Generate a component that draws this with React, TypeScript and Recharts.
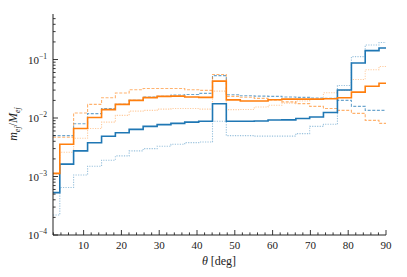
import { LineChart, Line, XAxis, YAxis } from 'recharts';

// bin centres in degrees
const theta = [1.9, 5.5, 9.2, 12.9, 16.6, 20.2, 23.9, 27.6, 31.3, 34.9, 38.6, 42.3, 45.9, 49.6, 53.3, 57.0, 60.6, 64.3, 68.0, 71.6, 75.3, 79.0, 82.7, 86.3, 90.0];

const blueSolid = [5.3e-4, 1.63e-3, 2.74e-3, 3.78e-3, 4.88e-3, 5.6e-3, 6.4e-3, 7.2e-3, 7.7e-3, 8.1e-3, 8.5e-3, 8.8e-3, 1.75e-2, 8.8e-3, 8.8e-3, 8.9e-3, 9.25e-3, 9.3e-3, 9.8e-3, 1.04e-2, 1.24e-2, 3.02e-2, 8.7e-2, 1.42e-1, 1.57e-1];
const orangeSolid = [1.13e-3, 3.56e-3, 6.6e-3, 1.02e-2, 1.39e-2, 1.71e-2, 2.0e-2, 2.23e-2, 2.34e-2, 2.37e-2, 2.28e-2, 2.25e-2, 4.27e-2, 2.04e-2, 1.95e-2, 1.95e-2, 2.05e-2, 2.1e-2, 2.1e-2, 2.1e-2, 2.13e-2, 2.22e-2, 2.77e-2, 3.5e-2, 3.94e-2];
const blueDashed = [5.0e-3, 5.0e-3, 8.0e-3, 1.19e-2, 1.45e-2, 1.71e-2, 2.0e-2, 2.28e-2, 2.34e-2, 2.47e-2, 2.53e-2, 2.64e-2, 5.3e-2, 2.5e-2, 2.4e-2, 2.37e-2, 2.34e-2, 2.28e-2, 2.25e-2, 2.2e-2, 2.17e-2, 2.0e-2, 1.58e-2, 1.35e-2, 1.35e-2];
const orangeDashed = [4.7e-3, 4.7e-3, 1.22e-2, 1.71e-2, 2.22e-2, 2.67e-2, 3.05e-2, 3.2e-2, 3.2e-2, 3.2e-2, 3.05e-2, 2.97e-2, 5.55e-2, 2.34e-2, 2.26e-2, 2.17e-2, 2.04e-2, 1.89e-2, 1.76e-2, 1.58e-2, 1.45e-2, 1.35e-2, 1.2e-2, 9.1e-3, 8.1e-3];
const blueDotted = [2.2e-4, 6.5e-4, 1.06e-3, 1.5e-3, 1.9e-3, 2.25e-3, 2.74e-3, 3.0e-3, 3.3e-3, 3.56e-3, 3.8e-3, 3.9e-3, 8.8e-3, 5.0e-3, 5.0e-3, 4.9e-3, 4.9e-3, 4.9e-3, 5.4e-3, 7.2e-3, 7.8e-3, 3.6e-2, 1.12e-1, 1.77e-1, 1.95e-1];
const orangeDotted = [1.1e-3, 2.6e-3, 4.5e-3, 6.6e-3, 8.5e-3, 1.11e-2, 1.31e-2, 1.35e-2, 1.42e-2, 1.45e-2, 1.45e-2, 1.42e-2, 2.88e-2, 1.39e-2, 1.4e-2, 1.54e-2, 1.65e-2, 1.8e-2, 1.95e-2, 2.1e-2, 2.7e-2, 2.95e-2, 4.56e-2, 6.7e-2, 7.6e-2];

const xTicks = [2, 4, 6, 8, 10, 12, 14, 16, 18, 20, 22, 24, 26, 28, 30, 32, 34, 36, 38, 40, 42, 44, 46, 48, 50, 52, 54, 56, 58, 60, 62, 64, 66, 68, 70, 72, 74, 76, 78, 80, 82, 84, 86, 88, 90];
const yTicks = [
  1e-4, 2e-4, 3e-4, 4e-4, 5e-4, 6e-4, 7e-4, 8e-4, 9e-4,
  1e-3, 2e-3, 3e-3, 4e-3, 5e-3, 6e-3, 7e-3, 8e-3, 9e-3,
  1e-2, 2e-2, 3e-2, 4e-2, 5e-2, 6e-2, 7e-2, 8e-2, 9e-2,
  1e-1, 2e-1, 3e-1, 4e-1, 5e-1,
];

const W = 407;
const H = 277;
const PLOT_LEFT = 53;
const PLOT_RIGHT = 386;
const PLOT_TOP = 14;
const PLOT_BOTTOM = 235;
const FONT = "'Liberation Serif', 'DejaVu Serif', serif";
const textStyle = { fontFamily: FONT, fill: '#222' };

const data = theta.map((t, i) => ({
  theta: t,
  bs: blueSolid[i],
  os: orangeSolid[i],
  bd: blueDashed[i],
  od: orangeDashed[i],
  bdot: blueDotted[i],
  odot: orangeDotted[i],
}));

const isDecade = (v: number) => Math.abs(Math.log10(v) - Math.round(Math.log10(v))) < 1e-6;

const BottomTick = (props: any) => {
  const { x, payload } = props;
  const major = payload.value % 10 === 0;
  return (
    <g>
      <line x1={x} x2={x} y1={PLOT_BOTTOM} y2={PLOT_BOTTOM - (major ? 5 : 2.6)} stroke="#222" strokeWidth={0.9} />
      {major && (
        <text x={x} y={PLOT_BOTTOM + 14} textAnchor="middle" fontSize={11} style={textStyle}>
          {payload.value}
        </text>
      )}
    </g>
  );
};

const TopTick = (props: any) => {
  const { x, payload } = props;
  const major = payload.value % 10 === 0;
  return <line x1={x} x2={x} y1={PLOT_TOP} y2={PLOT_TOP + (major ? 5 : 2.6)} stroke="#222" strokeWidth={0.9} />;
};

const LeftTick = (props: any) => {
  const { y, payload } = props;
  const major = isDecade(payload.value);
  const exp = Math.round(Math.log10(payload.value));
  return (
    <g>
      <line x1={PLOT_LEFT} x2={PLOT_LEFT + (major ? 5 : 2.6)} y1={y} y2={y} stroke="#222" strokeWidth={0.9} />
      {major && (
        <text x={PLOT_LEFT - 6} y={y + 4} textAnchor="end" fontSize={11} style={textStyle}>
          10
          <tspan dy={-5} fontSize={7.5}>{`\u2212${Math.abs(exp)}`}</tspan>
        </text>
      )}
    </g>
  );
};

const RightTick = (props: any) => {
  const { y, payload } = props;
  const major = isDecade(payload.value);
  return <line x1={PLOT_RIGHT} x2={PLOT_RIGHT - (major ? 5 : 2.6)} y1={y} y2={y} stroke="#222" strokeWidth={0.9} />;
};

const series = [
  { key: 'bdot', color: '#1f77b4', opacity: 0.45, dash: '1.2 1.3', width: 1.1 },
  { key: 'odot', color: '#ff7f0e', opacity: 0.4, dash: '1.2 1.3', width: 1.1 },
  { key: 'bd', color: '#1f77b4', opacity: 0.65, dash: '3 1.6', width: 1.1 },
  { key: 'od', color: '#ff7f0e', opacity: 0.6, dash: '3 1.6', width: 1.1 },
  { key: 'bs', color: '#1f77b4', opacity: 1, dash: undefined, width: 1.6 },
  { key: 'os', color: '#ff7f0e', opacity: 1, dash: undefined, width: 1.6 },
];

export default function App() {
  return (
    <div style={{ position: 'absolute', left: 0, top: 0, width: W, height: H, background: '#fff' }}>
      <LineChart
        width={W}
        height={H}
        data={data}
        margin={{ top: PLOT_TOP, right: W - PLOT_RIGHT, bottom: 0, left: 0 }}
      >
        <XAxis
          xAxisId="bottom"
          dataKey="theta"
          type="number"
          domain={[1.9, 90]}
          allowDataOverflow
          ticks={xTicks}
          interval={0}
          tick={<BottomTick />}
          tickLine={false}
          axisLine={{ stroke: '#222', strokeWidth: 1 }}
          height={H - PLOT_BOTTOM}
        />
        <XAxis
          xAxisId="top"
          orientation="top"
          dataKey="theta"
          type="number"
          domain={[1.9, 90]}
          allowDataOverflow
          ticks={xTicks}
          interval={0}
          tick={<TopTick />}
          tickLine={false}
          axisLine={{ stroke: '#222', strokeWidth: 1 }}
          height={0}
        />
        <YAxis
          yAxisId="left"
          scale="log"
          type="number"
          domain={[1e-4, 0.6]}
          allowDataOverflow
          ticks={yTicks}
          interval={0}
          tick={<LeftTick />}
          tickLine={false}
          axisLine={{ stroke: '#222', strokeWidth: 1 }}
          width={PLOT_LEFT}
        />
        <YAxis
          yAxisId="right"
          orientation="right"
          scale="log"
          type="number"
          domain={[1e-4, 0.6]}
          allowDataOverflow
          ticks={yTicks}
          interval={0}
          tick={<RightTick />}
          tickLine={false}
          axisLine={{ stroke: '#222', strokeWidth: 1 }}
          width={0}
        />
        {series.map((s) => (
          <Line
            key={s.key}
            xAxisId="bottom"
            yAxisId="left"
            dataKey={s.key}
            type="step"
            stroke={s.color}
            strokeOpacity={s.opacity}
            strokeDasharray={s.dash}
            strokeWidth={s.width}
            dot={false}
            activeDot={false}
            isAnimationActive={false}
          />
        ))}
        <text x={219} y={265} textAnchor="middle" fontSize={12} style={textStyle}>
          <tspan fontStyle="italic">θ</tspan> [deg]
        </text>
        <text
          x={17}
          y={124}
          transform="rotate(-90 17 124)"
          textAnchor="middle"
          fontSize={12}
          style={textStyle}
        >
          <tspan fontStyle="italic">m</tspan>
          <tspan fontSize={8} dy={2.5} fontStyle="italic">ej</tspan>
          <tspan dy={-2.5}>/</tspan>
          <tspan fontStyle="italic">M</tspan>
          <tspan fontSize={8} dy={2.5} fontStyle="italic">ej</tspan>
        </text>
      </LineChart>
    </div>
  );
}
